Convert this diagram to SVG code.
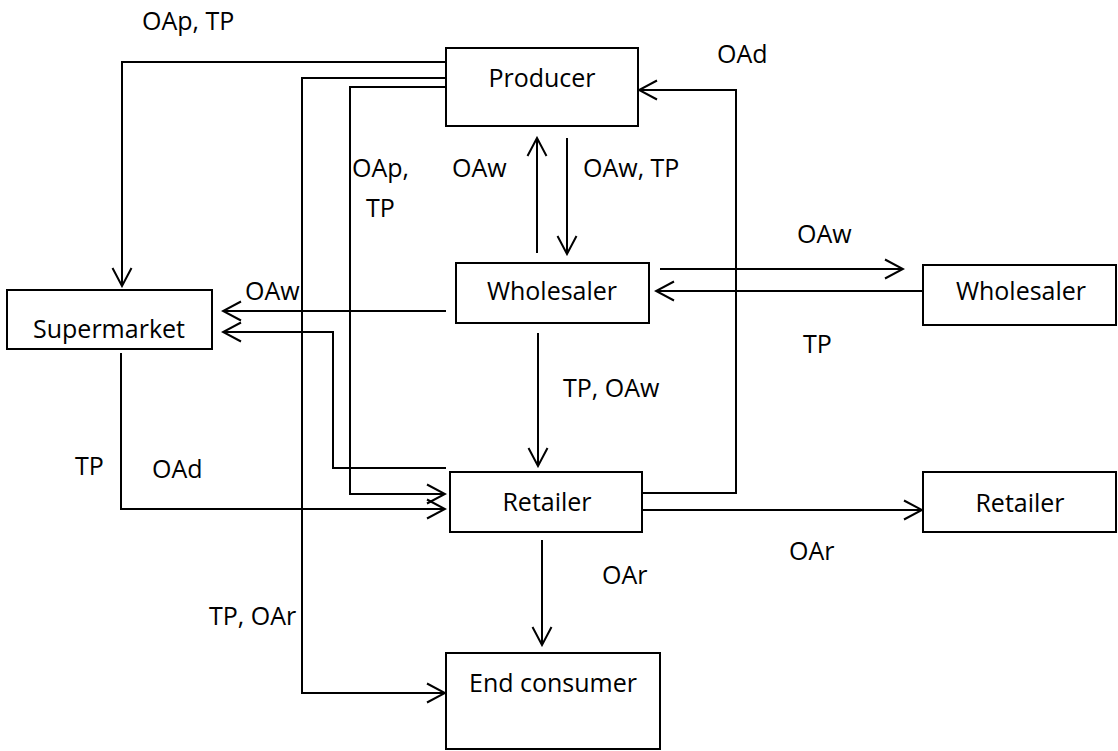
<svg xmlns="http://www.w3.org/2000/svg" width="1118" height="751" viewBox="0 0 1118 751">
<defs>
<style>
.box{fill:#fff;stroke:#000;stroke-width:2}
.ln{fill:none;stroke:#000;stroke-width:2;marker-end:url(#arr)}
text{font-family:"Open Sans","Liberation Sans",sans-serif;font-size:25px;fill:#000}
.c{text-anchor:middle}
</style>
<marker id="arr" markerUnits="userSpaceOnUse" viewBox="-22 -12 24 24" markerWidth="24" markerHeight="24" refX="0" refY="0" orient="auto">
<path d="M-18,-9.5 L0,0 L-18,9.5" fill="none" stroke="#000" stroke-width="2"/>
</marker>
</defs>
<rect width="1118" height="751" fill="#fff"/>
<g id="connectors">
<path class="ln" d="M446,62 H122 V286"/>
<path class="ln" d="M446,78 H302 V693 H445"/>
<path class="ln" d="M446,87 H350 V494 H445"/>
<path class="ln" d="M642,493 H736 V90 H639"/>
<path class="ln" d="M537,253 V138"/>
<path class="ln" d="M567,138 V254"/>
<path class="ln" d="M660,269 H903"/>
<path class="ln" d="M923,291 H656"/>
<path class="ln" d="M446,311 H223"/>
<path class="ln" d="M446,468 H333 V332 H223"/>
<path class="ln" d="M121,353 V509 H445"/>
<path class="ln" d="M538,333 V466"/>
<path class="ln" d="M642,510 H922"/>
<path class="ln" d="M542,540 V645"/>
</g>
<g id="labels">
<text x="142" y="30">OAp, TP</text>
<text x="717" y="63">OAd</text>
<text x="452" y="177">OAw</text>
<text x="583" y="177">OAw, TP</text>
<text x="352" y="177">OAp,</text>
<text x="366" y="217">TP</text>
<text x="797" y="243">OAw</text>
<text x="803" y="353">TP</text>
<text x="245" y="300">OAw</text>
<text x="563" y="397">TP, OAw</text>
<text x="75" y="475">TP</text>
<text x="152" y="478">OAd</text>
<text x="789" y="560">OAr</text>
<text x="602" y="584">OAr</text>
<text x="209" y="625">TP, OAr</text>
</g>
<g id="producer"><rect class="box" x="446" y="48" width="192" height="78"/><text class="c" x="542" y="87">Producer</text></g>
<g id="wholesaler"><rect class="box" x="456" y="263" width="193" height="60"/><text class="c" x="552" y="300">Wholesaler</text></g>
<g id="wholesaler2"><rect class="box" x="923" y="265" width="193" height="60"/><text class="c" x="1021" y="300">Wholesaler</text></g>
<g id="supermarket"><rect class="box" x="7" y="290" width="205" height="59"/><text class="c" x="109" y="338">Supermarket</text></g>
<g id="retailer"><rect class="box" x="450" y="472" width="192" height="60"/><text class="c" x="547" y="511">Retailer</text></g>
<g id="retailer2"><rect class="box" x="923" y="472" width="193" height="60"/><text class="c" x="1020" y="512">Retailer</text></g>
<g id="endconsumer"><rect class="box" x="446" y="653" width="214" height="96"/><text class="c" x="553" y="692">End consumer</text></g>
</svg>
